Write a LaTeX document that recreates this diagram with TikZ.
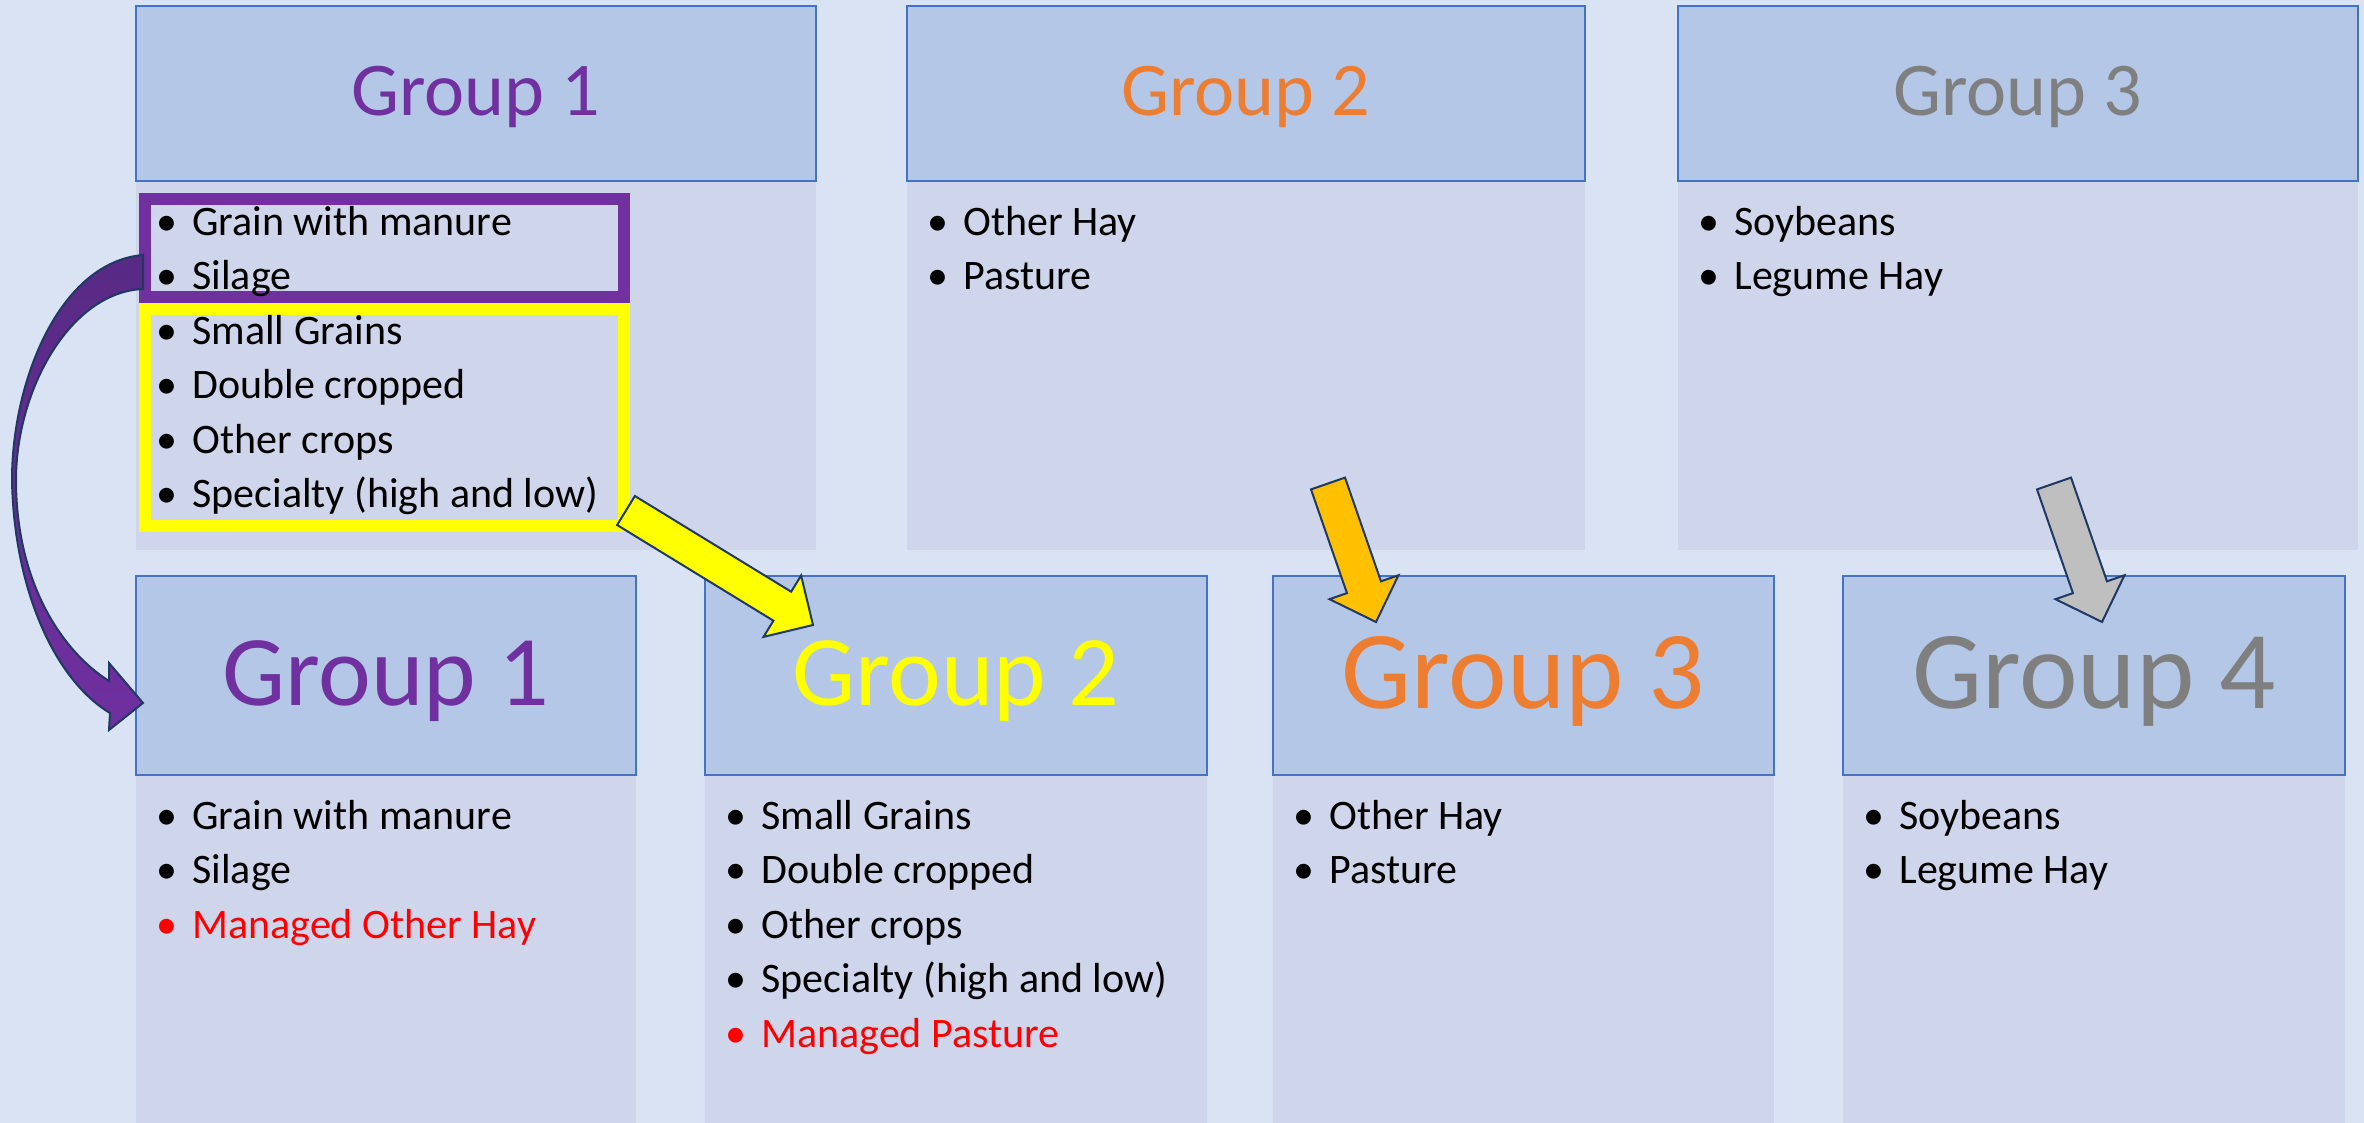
\documentclass[tikz,border=0pt]{standalone}
\usepackage{fontspec}
\setmainfont{Carlito}
\usetikzlibrary{calc}
\definecolor{bg}{HTML}{DAE3F3}
\definecolor{hdrfill}{HTML}{B4C7E7}
\definecolor{hdrline}{HTML}{4472C4}
\definecolor{bodyfill}{HTML}{CFD5EA}
\definecolor{gpurple}{HTML}{7030A0}
\definecolor{gpurpledark}{HTML}{582A84}
\definecolor{gorange}{HTML}{ED7D31}
\definecolor{ggrey}{HTML}{7F7F7F}
\definecolor{gyellow}{HTML}{FFFF00}
\definecolor{aorange}{HTML}{FFC000}
\definecolor{agrey}{HTML}{BFBFBF}
\definecolor{aline}{HTML}{1F3864}
\definecolor{gred}{HTML}{FF0000}

\newcommand\grouplist[4]{%
  \foreach \c/\t [count=\i] in {#4} {
    \node[bul, text=\c] (#1b\i) at ({#2+31},{#3+54.5*(\i-1)}) {•};
    \node[itm, text=\c] (#1t\i) at ({#2+56},{#3+54.5*(\i-1)}) {\t};
  }}

\newcommand\blockarrow[6]{%
  \coordinate (#1#2neck) at ($(#2)!#5!(#1)$);
  \path[blockarr, fill=#6]
    ($(#1)!#3!90:(#2)$) -- ($(#1#2neck)!#3!90:(#2)$) -- ($(#1#2neck)!#4!90:(#2)$)
    -- (#2) -- ($(#1#2neck)!#4!-90:(#2)$) -- ($(#1#2neck)!#3!-90:(#2)$)
    -- ($(#1)!#3!-90:(#2)$) -- cycle;}

\begin{document}
\begin{tikzpicture}[x=0.5pt,y=-0.5pt,
  hdr/.style={draw=hdrline, fill=hdrfill, line width=1pt, inner sep=0pt, outer sep=0pt},
  bodybox/.style={fill=bodyfill, inner sep=0pt, outer sep=0pt},
  toptitle/.style={font=\fontsize{38}{46}\selectfont},
  bottitle/.style={font=\fontsize{50}{60}\selectfont},
  bigtitle/.style={font=\fontsize{55.5}{66}\selectfont},
  bul/.style={font=\fontsize{21}{25}\selectfont, anchor=base, inner sep=0pt},
  itm/.style={font=\fontsize{21}{25}\selectfont, anchor=base west, inner sep=0pt},
  selframe/.style={line width=6pt, inner sep=0pt, outer sep=0pt},
  blockarr/.style={draw=aline, line width=1pt, line join=miter},
]
% background
\fill[bg] (0,0) rectangle (2364,1123);
\useasboundingbox (0,0) rectangle (2364,1123);

% top row bodies
\node[bodybox, minimum width=340pt, minimum height=184.5pt] (bA) at (476,365.5) {};
\node[bodybox, minimum width=339pt, minimum height=184.5pt] (bB) at (1246,365.5) {};
\node[bodybox, minimum width=340pt, minimum height=184.5pt] (bC) at (2018,365.5) {};
% top row headers
\node[hdr, minimum width=340pt, minimum height=87.5pt] (hA) at (476,93.5) {};
\node[hdr, minimum width=339pt, minimum height=87.5pt] (hB) at (1246,93.5) {};
\node[hdr, minimum width=340pt, minimum height=87.5pt] (hC) at (2018,93.5) {};
\node[toptitle, text=gpurple] (tA) at ($(hA.center)+(0,3)$) {Group 1};
\node[toptitle, text=gorange] (tB) at ($(hB.center)+(0,3)$) {Group 2};
\node[toptitle, text=ggrey] (tC) at ($(hC.center)+(0,3)$) {Group 3};

% bottom row bodies
\node[bodybox, minimum width=250pt, minimum height=174pt] (bD) at (386,949) {};
\node[bodybox, minimum width=251pt, minimum height=174pt] (bE) at (956,949) {};
\node[bodybox, minimum width=250.5pt, minimum height=174pt] (bF) at (1523.5,949) {};
\node[bodybox, minimum width=251pt, minimum height=174pt] (bG) at (2094,949) {};
% bottom row headers
\node[hdr, minimum width=250pt, minimum height=99.5pt] (hD) at (386,675.5) {};
\node[hdr, minimum width=251pt, minimum height=99.5pt] (hE) at (956,675.5) {};
\node[hdr, minimum width=250.5pt, minimum height=99.5pt] (hF) at (1523.5,675.5) {};
\node[hdr, minimum width=251pt, minimum height=99.5pt] (hG) at (2094,675.5) {};
\node[bottitle, text=gpurple] (tD) at ($(hD.center)+(0,6)$) {Group 1};
\node[bottitle, text=gyellow] (tE) at ($(hE.center)+(0,6)$) {Group 2};
\node[bigtitle, text=gorange] (tF) at ($(hF.center)+(0,6)$) {Group 3};
\node[bigtitle, text=ggrey] (tG) at ($(hG.center)+(0,6)$) {Group 4};

% selection frames
\node[selframe, draw=gpurple, minimum width=239.5pt, minimum height=49pt] (pframe) at (384.5,248) {};
\node[selframe, draw=gyellow, minimum width=239.5pt, minimum height=108.5pt] (yframe) at (384.5,417.5) {};

% lists
\grouplist{A}{136}{235}{black/Grain with manure, black/Silage, black/Small Grains, black/Double cropped, black/Other crops, black/Specialty (high and low)}
\grouplist{B}{907}{235}{black/Other Hay, black/Pasture}
\grouplist{C}{1678}{235}{black/Soybeans, black/Legume Hay}
\grouplist{D}{136}{829}{black/Grain with manure, black/Silage, gred/Managed Other Hay}
\grouplist{E}{705}{829}{black/Small Grains, black/Double cropped, black/Other crops, black/Specialty (high and low), gred/Managed Pasture}
\grouplist{F}{1273}{829}{black/Other Hay, black/Pasture}
\grouplist{G}{1843}{829}{black/Soybeans, black/Legume Hay}

% curved purple arrow from frame to bottom Group 1
\path[draw=aline, line width=1pt, top color=gpurpledark, bottom color=gpurple, line join=miter]
  (143,255) .. controls (60,262) and (12,380) .. (12,480)
  .. controls (14,590) and (55,680) .. (110,713)
  -- (109,730) -- (143,703) -- (109,663) -- (109,681)
  .. controls (60,650) and (16,580) .. (16,480)
  .. controls (16,390) and (70,292) .. (143,289) -- cycle;

% straight block arrows
\coordinate (ytail) at (626,510.5);
\coordinate (ytip) at (813,625);
\coordinate (otail) at (1328,483.5);
\coordinate (otip) at (1376,622);
\coordinate (gtail) at (2054,483.5);
\coordinate (gtip) at (2102,622);
\blockarrow{ytail}{ytip}{8.5pt}{18pt}{18pt}{gyellow}
\blockarrow{otail}{otip}{9pt}{18.25pt}{18.4pt}{aorange}
\blockarrow{gtail}{gtip}{9pt}{18.25pt}{18.4pt}{agrey}
\end{tikzpicture}
\end{document}
